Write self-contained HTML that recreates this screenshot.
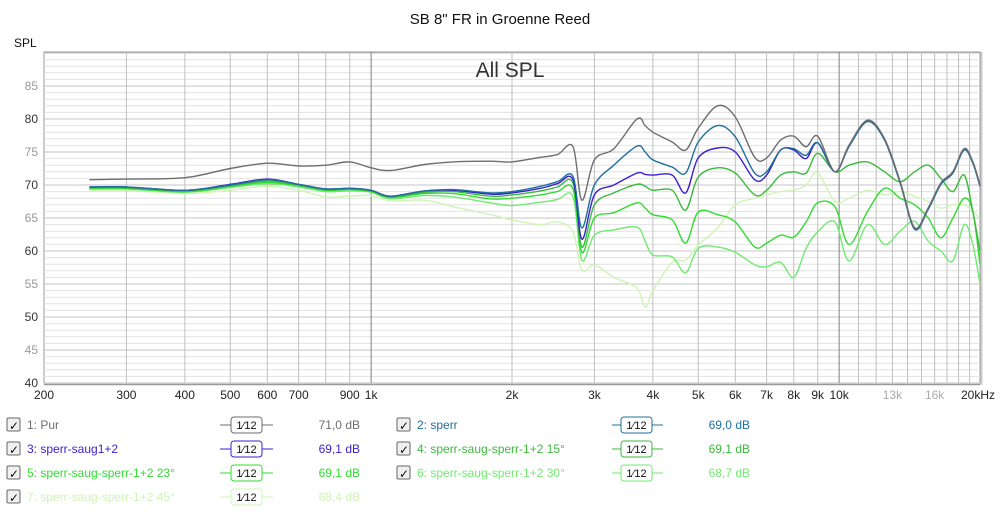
<!DOCTYPE html>
<html><head><meta charset="utf-8"><style>
body{margin:0;background:#fff;font-family:"Liberation Sans",sans-serif}
svg text{font-family:"Liberation Sans",sans-serif}
</style></head><body>
<svg id="chart" width="1000" height="511" viewBox="0 0 1000 511" xmlns="http://www.w3.org/2000/svg">
<rect width="1000" height="511" fill="#fff"/>
<text x="500" y="24" text-anchor="middle" font-size="15" fill="#111">SB 8" FR in Groenne Reed</text>
<text x="14" y="47" font-size="12" fill="#111">SPL</text>
<g id="grid"></g>
<g id="axes"></g>
<g id="series"></g>
<text x="510" y="77" text-anchor="middle" font-size="21" fill="#333">All SPL</text>
<g id="legend"></g>
</svg>
<script>
const freqs=[250,300,400,500,600,700,800,900,1000,1100,1300,1500,1800,2000,2300,2500,2700,2820,3000,3300,3700,3850,4000,4400,4700,5000,5500,6000,6600,7000,7500,8000,8500,9000,9800,10500,11500,12500,13500,14500,15500,16500,17500,18500,19300,20000];
const s1=[70.8,70.9,71.1,72.5,73.3,72.9,73.0,73.5,72.6,72.2,73.1,73.5,73.6,73.5,74.2,74.6,75.8,67.7,73.8,75.5,80,79,78,76.5,75.3,78.6,82,80.3,74.2,74.1,76.8,77.4,75.8,77.4,72,76,79.8,77,70.5,63.5,66.5,70.3,72,75.5,73.5,70];
const s2=[69.7,69.7,69.2,70.0,70.8,70.1,69.4,69.5,69.2,68.3,69.1,69.3,68.8,69.0,69.8,70.5,71.3,63.5,70,73,75.9,75,73.8,72.7,71.8,76.5,79,77.3,71.8,72,75.3,75.5,74.5,76.4,72,75.8,79.6,76.8,70.3,63.3,66.3,70.1,71.8,75.3,73.3,69.8];
const s3=[69.7,69.7,69.2,70.1,70.9,70.1,69.4,69.5,69.2,68.3,69.1,69.2,68.6,68.8,69.5,70.2,70.8,61.8,68.5,70,71.8,71.6,71.5,71.5,68.8,74.1,75.6,75,70.8,71.5,75.3,75.3,74,76.4,72,76,79.8,77,70.5,63.5,66.5,70.3,72,75.5,73.5,70];
const s4=[69.6,69.6,69.1,69.9,70.6,70.0,69.3,69.4,69.1,68.2,68.9,69.0,68.3,68.5,69.1,69.7,70.3,60.6,67,68.8,70.1,69.8,69.2,69.2,66.2,71.2,72.6,71.8,68.5,69.2,71.5,72,71.8,74.8,72,73,73.5,72,70.5,72,73,71,69,71.5,66,60];
const s5=[69.5,69.5,69.0,69.8,70.4,69.9,69.2,69.3,69.0,68.1,68.7,68.7,67.9,68.0,68.5,69.0,69.4,59.8,65,65.8,67.3,66.5,65.5,64.7,61.2,65.9,65.5,64.4,60.6,61.2,62.4,62.1,64.4,67.3,66.7,61,66,69.5,68,67,65,62,65,68,66,58];
const s6=[69.4,69.4,68.9,69.6,70.2,69.7,69.0,69.1,68.9,67.9,68.4,68.2,67.3,66.9,67.4,67.8,68.2,58.6,62.4,63.2,63.6,61.5,59.4,59.1,56.7,60.4,60.6,59.8,57.9,57.6,58.3,56,60.4,62.9,64.4,58.5,64,61,63,64.5,61.5,60,58.5,64,61,55];
const s7=[69.2,69.2,68.7,69.2,69.8,69.2,68.2,68.3,68.4,67.6,67.7,66.7,65.5,64.7,64,64.4,62.9,57.1,57.9,56,54.4,51.5,54,58.3,58.6,60.9,63.5,67,68,68.5,69,69.2,70,71.8,67.5,68,69.2,68.5,69,68.3,67.5,66.5,67,67,66,65];
const seriesNames=["1: Pur","2: sperr","3: sperr-saug1+2","4: sperr-saug-sperr-1+2 15°","5: sperr-saug-sperr-1+2 23°","6: sperr-saug-sperr-1+2 30°","7: sperr-saug-sperr-1+2 45°"];
const seriesLevels=["71,0 dB","69,0 dB","69,1 dB","69,1 dB","69,1 dB","68,7 dB","68,4 dB"];
const yTicks=[40,45,50,55,60,65,70,75,80,85];
const xTickVals=[200,300,400,500,600,700,900,1000,2000,3000,4000,5000,6000,7000,8000,9000,10000,13000,16000,20000];
const xTickLabels=["200","300","400","500","600","700","900","1k","2k","3k","4k","5k","6k","7k","8k","9k","10k","13k","16k","20kHz"];

const colors=["#6e6e6e","#1f6f9f","#3a1fd0","#3cb93c","#30dc30","#72ea72","#cff5b5"];
const L=44,R=980,T=52,B=383;
function xs(f){return L+468*Math.log10(f/200);}
function ys(d){return B-(d-40)*6.6;}
const NS="http://www.w3.org/2000/svg";
function mk(tag,parent,attrs){const e=document.createElementNS(NS,tag);for(const k in attrs)e.setAttribute(k,attrs[k]);parent.appendChild(e);return e;}
const grid=document.getElementById('grid'),axes=document.getElementById('axes'),ser=document.getElementById('series'),leg=document.getElementById('legend');
let r=mk('rect',grid,{x:L,y:T,width:R-L,height:B-T,fill:'#fff',stroke:'#999'});


for(let d=40;d<=90;d++){const l=mk('line',grid,{x1:L,x2:R,y1:ys(d),y2:ys(d),stroke:d%5==0?'#c4c4c4':'#e2e2e2','stroke-width':1});

}
const vf=[];for(let f=300;f<1000;f+=100)vf.push(f);for(let f=1000;f<=10000;f+=1000)vf.push(f);for(let f=11000;f<20000;f+=1000)vf.push(f);
vf.forEach(f=>{const l=mk('line',grid,{x1:xs(f),x2:xs(f),y1:T,y2:B,stroke:(f==1000||f==10000)?'#808080':'#c0c0c0','stroke-width':1});

});
mk('line',grid,{x1:R+1.5,x2:R+1.5,y1:T,y2:B+2,stroke:'#ccc','stroke-width':2});
mk('line',grid,{x1:L,x2:R,y1:B+1.5,y2:B+1.5,stroke:'#999','stroke-width':1.5});
yTicks.forEach(v=>{const t=mk('text',axes,{x:38,y:ys(v)+4,'text-anchor':'end','font-size':12,fill:v%10==0?'#333':'#999'});t.textContent=v;

});
xTickVals.forEach((v,i)=>{let x=xs(v);if(i==xTickLabels.length-1){x=978;}
const t=mk('text',axes,{x:x,y:399,'text-anchor':'middle','font-size':12,fill:(v==13000||v==16000)?'#aaa':'#222'});t.textContent=xTickLabels[i];

});
function pathFor(vals){const p=freqs.map((f,i)=>[xs(f),ys(vals[i])]);let d='M'+p[0][0].toFixed(1)+','+p[0][1].toFixed(1);
for(let i=0;i<p.length-1;i++){const p0=p[Math.max(0,i-1)],p1=p[i],p2=p[i+1],p3=p[Math.min(p.length-1,i+2)];
const c1=[p1[0]+(p2[0]-p0[0])/6,p1[1]+(p2[1]-p0[1])/6],c2=[p2[0]-(p3[0]-p1[0])/6,p2[1]-(p3[1]-p1[1])/6];
d+=' C'+c1.map(v=>v.toFixed(1)).join(',')+' '+c2.map(v=>v.toFixed(1)).join(',')+' '+p2.map(v=>v.toFixed(1)).join(',');}return d;}
const all=[s1,s2,s3,s4,s5,s6,s7];
for(let k=all.length-1;k>=0;k--){const pth=mk('path',ser,{d:pathFor(all[k]),fill:'none',stroke:colors[k],'stroke-width':1.4});

}
const rowsY=[425,449,473,497];
seriesNames.forEach((n,i)=>{const col=i%2,row=Math.floor(i/2);const y=rowsY[row];
const cx=col?397:7,tx=col?417:27,fx=col?621:231,lx1=col?612:220,lx2=col?663:273,vx=col?750:360;
const g=mk('g',leg,{});


const cb=mk('rect',g,{x:cx,y:y-7,width:13,height:13,fill:'#f0f0f0',stroke:'#666',rx:1.5});


const ck=mk('text',g,{x:cx+2,y:y+5,'font-size':12,fill:'#111'});ck.textContent='✓';


const t=mk('text',g,{x:tx,y:y+4,'font-size':12,fill:colors[i]});t.textContent=n;


mk('line',g,{x1:lx1,x2:lx2,y1:y,y2:y,stroke:colors[i],'stroke-width':1});
const fb=mk('rect',g,{x:fx,y:y-8,width:31,height:16,rx:3,fill:'#fff',stroke:colors[i]});


const ft=mk('text',g,{x:fx+15.5,y:y+4,'font-size':11,'text-anchor':'middle',fill:'#111'});ft.textContent='1⁄12';


const vt=mk('text',g,{x:vx,y:y+4,'font-size':12,'text-anchor':'end',fill:colors[i]});vt.textContent=seriesLevels[i];

});
</script>
</body></html>
